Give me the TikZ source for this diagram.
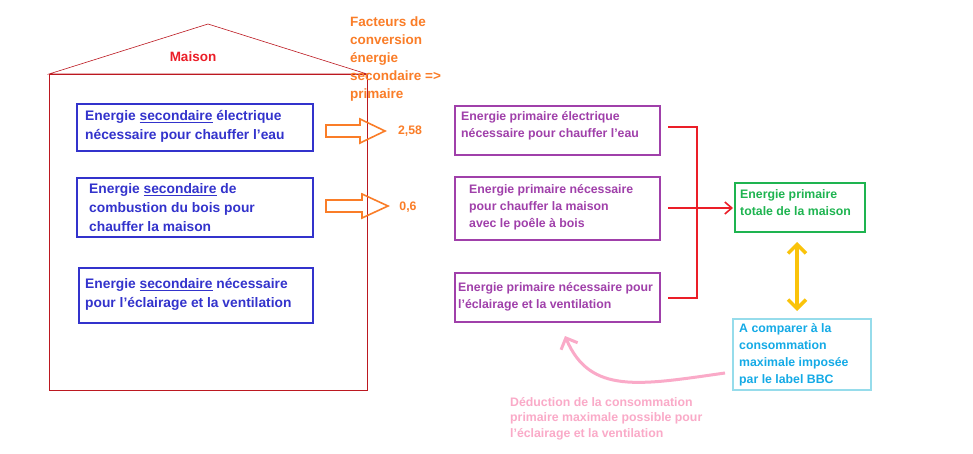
\documentclass[tikz,border=0pt]{standalone}
\usepackage{fontspec}
\setmainfont{Liberation Sans}
\usetikzlibrary{arrows.meta,shapes.arrows}
\definecolor{bb}{RGB}{51,51,204}
\definecolor{pp}{RGB}{160,64,170}
\definecolor{oo}{RGB}{250,125,40}
\definecolor{gg}{RGB}{30,180,80}
\definecolor{cc}{RGB}{20,170,230}
\definecolor{ccb}{RGB}{150,220,235}
\definecolor{pk}{RGB}{250,170,200}
\definecolor{yy}{RGB}{250,195,10}
\definecolor{rr}{RGB}{235,30,40}
\tikzset{
 bluebox/.style={text=bb,font=\bfseries\fontsize{13.8}{19}\selectfont,align=left,inner sep=0pt},
 purbox/.style={text=pp,font=\bfseries\fontsize{12.3}{17}\selectfont,align=left,inner sep=0pt},
 lbl/.style={font=\bfseries\fontsize{12.3}{17}\selectfont,align=left,inner sep=0pt},
}
\begin{document}
\begin{tikzpicture}[x=1pt,y=-1pt]
\useasboundingbox (0,0) rectangle (973,453);
\fill[white] (0,0) rectangle (973,453);
% house
\draw[rr!80!black,line width=0.6pt] (49,74) -- (208,24) -- (367,74) -- cycle;
\draw[rr!80!black,line width=0.6pt] (49,74) rectangle (367,390);
\node[lbl,text=rr,font=\bfseries\fontsize{13.5}{16}\selectfont] (maison) at (193,57) {Maison};
% blue boxes
\draw[bb,line width=2pt] (77,104) rectangle (313,151);
\node[bluebox,anchor=north west] (b1) at (85,110) {Energie \underline{secondaire} électrique\\nécessaire pour chauffer l'eau};
\draw[bb,line width=2pt] (77,178) rectangle (313,237);
\node[bluebox,anchor=north west] (b2) at (89,183) {Energie \underline{secondaire} de\\combustion du bois pour\\chauffer la maison};
\draw[bb,line width=2pt] (79,268) rectangle (313,323);
\node[bluebox,anchor=north west] (b3) at (85,278) {Energie \underline{secondaire} nécessaire\\pour l'éclairage et la ventilation};
% orange
\node[lbl,text=oo,font=\bfseries\fontsize{13.5}{18}\selectfont,anchor=north west] (fc) at (350,17) {Facteurs de\\conversion\\énergie\\secondaire =>\\primaire};
\draw[oo,line width=1.6pt] (326,125) -- (360,125) -- (360,119) -- (385,131) -- (360,143) -- (360,137) -- (326,137) -- cycle;
\draw[oo,line width=1.6pt] (326,200) -- (362,200) -- (362,194) -- (388,206) -- (362,218) -- (362,212) -- (326,212) -- cycle;
\node[lbl,text=oo] (f1) at (410,131) {2,58};
\node[lbl,text=oo] (f2) at (408,207) {0,6};
% purple
\draw[pp,line width=2pt] (455,106) rectangle (660,155);
\node[purbox,anchor=north west] (p1) at (461,111) {Energie primaire électrique\\nécessaire pour chauffer l'eau};
\draw[pp,line width=2pt] (455,177) rectangle (660,240);
\node[purbox,anchor=north west] (p2) at (469,184) {Energie primaire nécessaire\\pour chauffer la maison\\avec le poêle à bois};
\draw[pp,line width=2pt] (455,273) rectangle (660,322);
\node[purbox,anchor=north west] (p3) at (458,282) {Energie primaire nécessaire pour\\l'éclairage et la ventilation};
% red bracket
\draw[rr,line width=1.6pt] (668,127) -- (697,127) -- (697,298) -- (668,298);
\draw[rr,line width=1.6pt,-{Straight Barb[length=7pt,width=12pt]}] (668,208) -- (733,208);
% green
\draw[gg,line width=2pt] (735,183) rectangle (865,232);
\node[lbl,text=gg,anchor=north west] (g) at (740,189) {Energie primaire\\totale de la maison};
% yellow
\draw[yy,line width=3.5pt,{Straight Barb[length=9pt,width=18pt]}-{Straight Barb[length=9pt,width=18pt]}] (797,242) -- (797,311);
% cyan
\draw[ccb,line width=2pt] (733,319) rectangle (871,390);
\node[lbl,text=cc,anchor=north west] (c) at (739,323) {A comparer à la\\consommation\\maximale imposée\\par le label BBC};
% pink
\draw[pk,line width=3pt,-{Straight Barb[length=9pt,width=18pt]}] (725,373) .. controls (640,385) and (590,395) .. (565,336);
\node[lbl,text=pk,font=\bfseries\fontsize{12.3}{15.5}\selectfont,anchor=north west] (d) at (510,397) {Déduction de la consommation\\primaire maximale possible pour\\l'éclairage et la ventilation};
\end{tikzpicture}
\end{document}
